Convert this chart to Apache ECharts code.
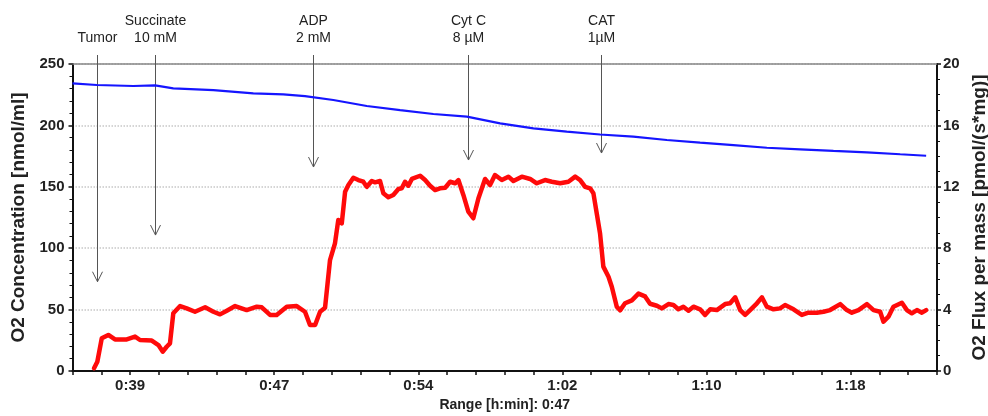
<!DOCTYPE html>
<html>
<head>
<meta charset="utf-8">
<script src="https://cdn.jsdelivr.net/npm/echarts@6.0.0/dist/echarts.min.js"></script>
<style>
    html, body { margin: 0; padding: 0; background: #fff; }
    #chart { width: 988px; height: 416px; }
</style>
</head>
<body>
<div id="chart"></div>
<script>
// x axis: time in minutes (shown 0:39 ... 1:18), range 47 min
const xStartMin = 35.9;
const xRangeMin = 47;
const xTickLabels = ['0:39', '0:47', '0:54', '1:02', '1:10', '1:18'];

// O2 concentration [nmol/ml] (blue, left axis)
const concTimes = [35.9, 37.22, 39.21, 40.39, 41.38, 43.56, 45.73, 47.36, 48.54, 50.08, 51.9, 53.71, 55.52, 57.34,
    59.15, 60.96, 62.77, 64.58, 66.39, 68.21, 70.02, 71.83, 73.65, 75.46, 77.27, 79.09, 80.9, 82.31];
const concValues = [234.3, 232.9, 232.1, 232.6, 230.2, 228.8, 226.1, 225.3, 223.9, 220.7, 215.8, 212.5, 209.3, 207.1,
    201.7, 197.6, 194.9, 192.6, 190.8, 188.1, 185.9, 184.0, 181.8, 180.5, 179.2, 178.1, 176.5, 175.3];

// O2 flux per mass [pmol/(s*mg)] (red, right axis)
const fluxTimes = [37.07, 37.25, 37.49, 37.85, 38.21, 38.85, 39.3, 39.57, 40.21, 40.57, 40.81, 41.02, 41.2, 41.38,
    41.75, 42.11, 42.56, 43.11, 43.56, 43.92, 44.29, 44.74, 45.37, 45.92, 46.19, 46.64, 47.0, 47.55, 48.09, 48.54,
    48.81, 49.09, 49.36, 49.63, 49.9, 50.17, 50.35, 50.54, 50.72, 50.9, 51.17, 51.44, 51.71, 51.9, 52.17, 52.35,
    52.62, 52.8, 53.07, 53.34, 53.62, 53.8, 53.98, 54.16, 54.35, 54.8, 55.07, 55.34, 55.61, 55.88, 56.16, 56.43,
    56.7, 56.88, 57.15, 57.42, 57.69, 57.97, 58.33, 58.6, 58.87, 59.24, 59.6, 59.87, 60.33, 60.78, 61.14, 61.59,
    61.96, 62.41, 62.86, 63.23, 63.5, 63.77, 64.04, 64.22, 64.41, 64.58, 64.76, 65.04, 65.22, 65.49, 65.67, 65.94,
    66.31, 66.67, 67.03, 67.3, 67.67, 67.94, 68.3, 68.57, 68.84, 69.11, 69.39, 69.66, 70.02, 70.29, 70.57, 70.93,
    71.38, 71.65, 71.93, 72.2, 72.47, 72.74, 73.11, 73.38, 73.65, 74.01, 74.37, 74.64, 75.1, 75.55, 75.91, 76.37,
    76.73, 77.09, 77.64, 78.0, 78.27, 78.63, 79.09, 79.45, 79.81, 79.99, 80.26, 80.53, 80.99, 81.26, 81.53, 81.81,
    82.08, 82.31];
const fluxValues = [0.18, 0.6, 2.13, 2.35, 2.06, 2.06, 2.24, 2.02, 1.98, 1.69, 1.26, 1.58, 1.8, 3.76,
    4.23, 4.08, 3.86, 4.15, 3.86, 3.69, 3.93, 4.23, 3.97, 4.19, 4.15, 3.65, 3.65, 4.19, 4.23, 3.86,
    3.0, 3.0, 3.86, 4.12, 7.23, 8.32, 9.84, 9.62, 11.68, 12.12, 12.59, 12.44, 12.33, 12.0, 12.38, 12.29,
    12.38, 11.58, 11.32, 11.47, 11.86, 11.9, 12.33, 12.07, 12.51, 12.72, 12.44, 12.07, 11.79, 11.9, 11.94, 12.33,
    12.23, 12.44, 11.47, 10.38, 9.95, 11.25, 12.51, 12.12, 12.77, 12.44, 12.66, 12.38, 12.66, 12.51, 12.23, 12.44,
    12.33, 12.23, 12.33, 12.66, 12.44, 12.0, 11.9, 11.58, 10.2, 8.97, 6.8, 6.14, 5.49, 4.19, 3.95, 4.41,
    4.6, 5.04, 4.86, 4.38, 4.25, 4.08, 4.36, 4.3, 4.02, 4.19, 3.93, 4.19, 4.02, 3.65, 4.02, 3.97,
    4.36, 4.41, 4.8, 3.97, 3.65, 3.97, 4.41, 4.8, 4.19, 4.02, 4.08, 4.3, 4.02, 3.65, 3.8, 3.8,
    3.86, 3.97, 4.36, 3.97, 3.8, 3.97, 4.36, 3.97, 3.86, 3.21, 3.54, 4.19, 4.45, 3.97, 3.76, 3.97,
    3.8, 3.97];

// injections: time, label, arrow tip level (nmol/ml)
const eventTimes = [37.22, 40.39, 48.96, 57.39, 64.62];
const eventLabels = ['Tumor', 'Succinate\n10 mM', 'ADP\n2 mM', 'Cyt C\n8 µM', 'CAT\n1µM'];
const eventArrowTips = [72.7, 110.7, 166.1, 171.8, 177.5];

const FONT = '"Liberation Sans", Arial, sans-serif';

// axis runs in seconds so the tick step stays an integer
const xMin = Math.round(xStartMin * 60);
const xMax = xMin + xRangeMin * 60;
const xStep = xRangeMin * 60 / 30;

function xLabel(v) {
    const k = Math.round((v - xMin) / xStep);
    if (k >= 2 && (k - 2) % 5 === 0) {
        return xTickLabels[(k - 2) / 5] || '';
    }
    return '';
}

const chart = echarts.init(document.getElementById('chart'));

const option = {
    animation: false,
    backgroundColor: '#fff',
    grid: {
        left: 72.5,
        right: 51,
        top: 64,
        bottom: 45,
        containLabel: false,
        outerBoundsMode: 'none'
    },
    xAxis: [
        {
            type: 'value',
            position: 'bottom',
            min: xMin,
            max: xMax,
            interval: xStep,
            name: 'Range [h:min]: 0:47',
            nameLocation: 'middle',
            nameGap: 26,
            nameTextStyle: {color: '#222', fontWeight: 'bold', fontSize: 14, fontFamily: FONT},
            axisLine: {show: true, onZero: false, lineStyle: {color: '#111', width: 2}},
            axisTick: {show: true, length: 4, lineStyle: {color: '#111', width: 1.5}},
            axisLabel: {formatter: xLabel, color: '#222', fontWeight: 'bold', fontSize: 15, fontFamily: FONT, margin: 7},
            splitLine: {show: false}
        },
        {
            type: 'value',
            position: 'top',
            min: xMin,
            max: xMax,
            axisLine: {show: true, onZero: false, lineStyle: {color: '#888', width: 1.5}},
            axisTick: {show: false},
            axisLabel: {show: false},
            splitLine: {show: false}
        }
    ],
    yAxis: [
        {
            type: 'value',
            position: 'left',
            min: 0,
            max: 250,
            interval: 50,
            name: 'O2 Concentration [nmol/ml]',
            nameLocation: 'middle',
            nameRotate: 90,
            nameGap: 43,
            nameTextStyle: {color: '#222', fontWeight: 'bold', fontSize: 19, fontFamily: FONT},
            axisLine: {show: true, onZero: false, lineStyle: {color: '#111', width: 2}},
            axisTick: {show: true, length: 4, lineStyle: {color: '#111', width: 1.5}},
            minorTick: {show: true, splitNumber: 5, length: 3, lineStyle: {color: '#111', width: 1}},
            axisLabel: {color: '#222', fontWeight: 'bold', fontSize: 15, fontFamily: FONT, margin: 8},
            splitLine: {show: true, lineStyle: {color: '#c8c8c8', type: 'dotted', width: 1.5}}
        },
        {
            type: 'value',
            position: 'right',
            min: 0,
            max: 20,
            interval: 4,
            name: 'O2 Flux per mass [pmol/(s*mg)]',
            nameLocation: 'middle',
            nameRotate: 90,
            nameGap: 29,
            nameTextStyle: {color: '#222', fontWeight: 'bold', fontSize: 19, fontFamily: FONT},
            axisLine: {show: true, onZero: false, lineStyle: {color: '#111', width: 2}},
            axisTick: {show: true, length: 4, lineStyle: {color: '#111', width: 1.5}},
            minorTick: {show: true, splitNumber: 4, length: 3, lineStyle: {color: '#111', width: 1}},
            axisLabel: {color: '#222', fontWeight: 'bold', fontSize: 15, fontFamily: FONT, margin: 6},
            splitLine: {show: false}
        }
    ],
    series: [
        {
            name: 'O2 Concentration',
            type: 'line',
            xAxisIndex: 0,
            yAxisIndex: 0,
            data: concTimes.map((t, i) => [t * 60, concValues[i]]),
            showSymbol: false,
            lineStyle: {color: '#1515ff', width: 2.2},
            z: 3
        },
        {
            name: 'O2 Flux per mass',
            type: 'line',
            xAxisIndex: 0,
            yAxisIndex: 1,
            data: fluxTimes.map((t, i) => [t * 60, fluxValues[i]]),
            showSymbol: false,
            lineStyle: {color: '#ff0a0a', width: 4.5, join: 'round', cap: 'round'},
            z: 4
        },
        {
            name: 'events',
            type: 'custom',
            xAxisIndex: 0,
            yAxisIndex: 0,
            clip: false,
            z: 2,
            data: eventTimes.map((t, i) => [t * 60, eventArrowTips[i]]),
            renderItem: function (params, api) {
                const tip = api.coord([api.value(0), api.value(1)]);
                const top = api.coord([api.value(0), 250])[1] - 9;
                const x = Math.round(tip[0]) + 0.5;
                const y = tip[1];
                return {
                    type: 'group',
                    children: [
                        {
                            type: 'line',
                            shape: {x1: x, y1: top, x2: x, y2: y},
                            style: {stroke: '#555', lineWidth: 1}
                        },
                        {
                            type: 'polyline',
                            shape: {points: [[x - 5, y - 10], [x, y], [x + 5, y - 10]]},
                            style: {stroke: '#555', lineWidth: 1, fill: null}
                        },
                        {
                            type: 'text',
                            style: {
                                text: eventLabels[params.dataIndex],
                                x: x,
                                y: top - 8,
                                align: 'center',
                                verticalAlign: 'bottom',
                                font: '14px ' + FONT,
                                lineHeight: 17,
                                fill: '#222'
                            }
                        }
                    ]
                };
            }
        }
    ]
};

chart.setOption(option);
</script>
</body>
</html>
